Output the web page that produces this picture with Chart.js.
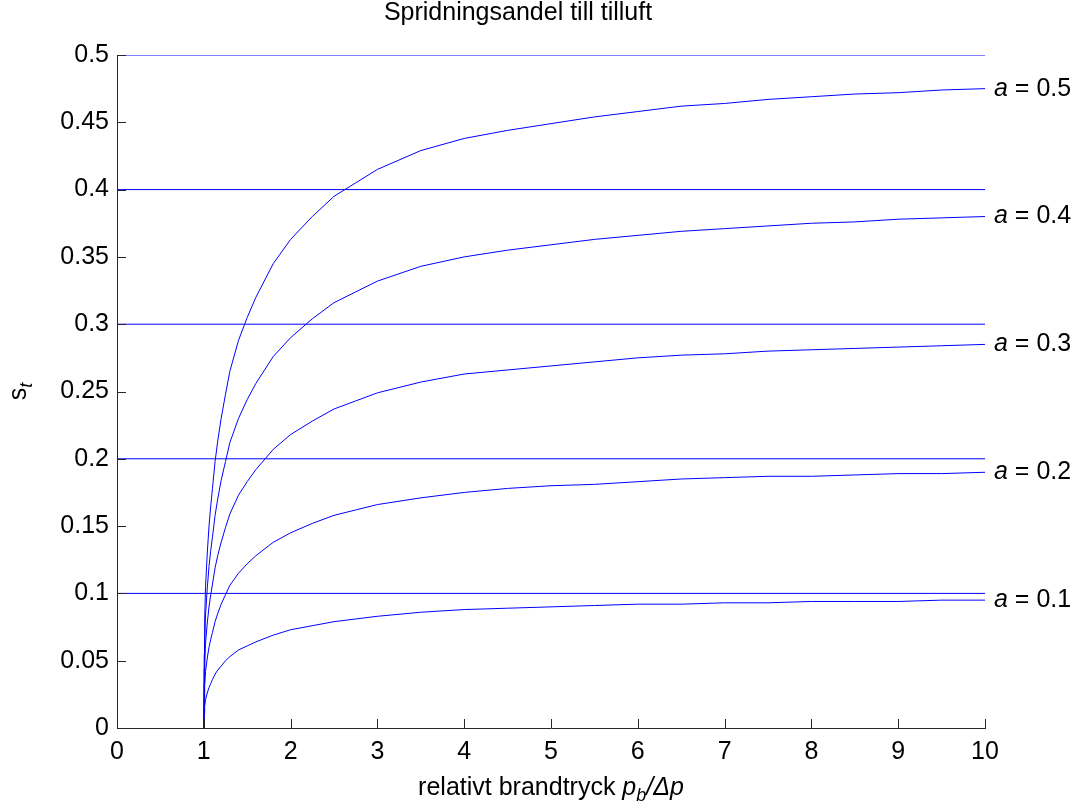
<!DOCTYPE html>
<html>
<head>
<meta charset="utf-8">
<script src="https://cdn.jsdelivr.net/npm/chart.js@4.4.1/dist/chart.umd.min.js"></script>
<style>
  html, body { margin: 0; padding: 0; background: #fff; }
  #wrap { width: 1079px; height: 806px; }
</style>
</head>
<body>
<div id="wrap"><canvas id="myChart" width="1079" height="806"></canvas></div>
<script>
// relativt brandtryck p_b/Δp (x) and s_t for each a
const pressureRatio = [1, 1.005, 1.01, 1.02, 1.04, 1.06, 1.08, 1.1, 1.13, 1.16, 1.2, 1.25, 1.3, 1.4, 1.5, 1.6, 1.8, 2,
    2.25, 2.5, 2.75, 3, 3.5, 4, 4.5, 5, 5.5, 6, 6.5, 7, 7.5, 8, 8.5, 9, 9.5, 10];
const aValues = [0.5, 0.4, 0.3, 0.2, 0.1];
const st_a05 = [0, 0.055, 0.08, 0.105, 0.13, 0.15, 0.165, 0.178, 0.198, 0.213, 0.23, 0.248, 0.265, 0.288, 0.305, 0.32,
    0.345, 0.363, 0.38, 0.395, 0.405, 0.415, 0.429, 0.438, 0.444, 0.449, 0.454, 0.458, 0.462, 0.464, 0.467, 0.469,
    0.471, 0.472, 0.474, 0.475];
const st_a04 = [0, 0.044, 0.064, 0.084, 0.104, 0.12, 0.132, 0.142, 0.158, 0.17, 0.184, 0.198, 0.212, 0.23, 0.244, 0.256,
    0.276, 0.29, 0.304, 0.316, 0.324, 0.332, 0.343, 0.35, 0.355, 0.359, 0.363, 0.366, 0.369, 0.371, 0.373, 0.375,
    0.376, 0.378, 0.379, 0.38];
const st_a03 = [0, 0.033, 0.048, 0.063, 0.078, 0.09, 0.099, 0.107, 0.119, 0.128, 0.138, 0.149, 0.159, 0.173, 0.183, 0.192,
    0.207, 0.218, 0.228, 0.237, 0.243, 0.249, 0.257, 0.263, 0.266, 0.269, 0.272, 0.275, 0.277, 0.278, 0.28, 0.281,
    0.282, 0.283, 0.284, 0.285];
const st_a02 = [0, 0.022, 0.032, 0.042, 0.052, 0.06, 0.066, 0.071, 0.079, 0.085, 0.092, 0.099, 0.106, 0.115, 0.122, 0.128,
    0.138, 0.145, 0.152, 0.158, 0.162, 0.166, 0.171, 0.175, 0.178, 0.18, 0.181, 0.183, 0.185, 0.186, 0.187, 0.187,
    0.188, 0.189, 0.189, 0.19];
const st_a01 = [0, 0.011, 0.016, 0.021, 0.026, 0.03, 0.033, 0.036, 0.04, 0.043, 0.046, 0.05, 0.053, 0.058, 0.061, 0.064,
    0.069, 0.073, 0.076, 0.079, 0.081, 0.083, 0.086, 0.088, 0.089, 0.09, 0.091, 0.092, 0.092, 0.093, 0.093, 0.094,
    0.094, 0.094, 0.095, 0.095];
const curves = [st_a05, st_a04, st_a03, st_a02, st_a01];
const xRange = [0, 10];
const yRange = [0, 0.5];

const lineBlue = '#0000ff';
const axisColor = '#262626';
const fontFamily = '"Liberation Sans", Arial, Helvetica, sans-serif';
const fontSize = 25;

const datasets = [];
curves.forEach((vals, i) => {
    datasets.push({
        label: 'a = ' + aValues[i],
        data: pressureRatio.map((x, j) => ({ x: x, y: vals[j] })),
        borderColor: lineBlue,
        borderWidth: 1,
        pointRadius: 0,
        showLine: true,
        tension: 0
    });
});
// asymptote lines s_t = a
aValues.forEach(a => {
    datasets.push({
        label: 'asymptote ' + a,
        data: [{ x: xRange[0], y: a }, { x: xRange[1], y: a }],
        borderColor: lineBlue,
        borderWidth: 1,
        pointRadius: 0,
        showLine: true
    });
});

function drawRuns(ctx, runs, x, y) {
    let cx = x;
    runs.forEach(r => {
        ctx.font = r.font;
        ctx.fillText(r.text, cx, y + (r.dy || 0));
        cx += ctx.measureText(r.text).width + (r.gap || 0);
    });
}
function runsWidth(ctx, runs) {
    let w = 0;
    runs.forEach(r => { ctx.font = r.font; w += ctx.measureText(r.text).width + (r.gap || 0); });
    return w;
}

const decorPlugin = {
    id: 'decor',
    afterDraw(chart) {
        const { ctx, chartArea, scales } = chart;
        const xs = scales.x, ys = scales.y;
        const reg = fontSize + 'px ' + fontFamily;
        const ital = 'italic ' + fontSize + 'px ' + fontFamily;
        const sub = 'italic 18px ' + fontFamily;
        ctx.save();

        // inward tick marks
        ctx.strokeStyle = axisColor;
        ctx.lineWidth = 1;
        ctx.beginPath();
        xs.ticks.forEach(t => {
            const px = Math.round(xs.getPixelForValue(t.value)) + 0.5;
            ctx.moveTo(px, chartArea.bottom);
            ctx.lineTo(px, chartArea.bottom - 9);
        });
        ys.ticks.forEach(t => {
            const py = Math.round(ys.getPixelForValue(t.value)) + 0.5;
            ctx.moveTo(chartArea.left, py);
            ctx.lineTo(chartArea.left + 9, py);
        });
        ctx.stroke();

        ctx.fillStyle = '#000';
        ctx.textBaseline = 'middle';
        ctx.textAlign = 'left';

        // labels at the curve ends
        curves.forEach((vals, i) => {
            const py = ys.getPixelForValue(vals[vals.length - 1]);
            drawRuns(ctx, [
                { text: 'a', font: ital },
                { text: ' = ' + aValues[i], font: reg }
            ], chartArea.right + 9, py);
        });

        // title
        ctx.textAlign = 'center';
        ctx.font = reg;
        ctx.fillText('Spridningsandel till tilluft', 518, 13);

        // x axis title
        ctx.textAlign = 'left';
        ctx.textBaseline = 'alphabetic';
        const xRuns = [
            { text: 'relativt brandtryck ', font: reg },
            { text: 'p', font: ital },
            { text: 'b', font: sub, dy: 6 },
            { text: '/\u0394p', font: ital }
        ];
        const xw = runsWidth(ctx, xRuns);
        drawRuns(ctx, xRuns, (chartArea.left + chartArea.right) / 2 - xw / 2, 795);

        // y axis title
        const yRuns = [
            { text: 's', font: reg },
            { text: 't', font: sub, dy: 6 }
        ];
        const yw = runsWidth(ctx, yRuns);
        ctx.translate(26, (chartArea.top + chartArea.bottom) / 2);
        ctx.rotate(-Math.PI / 2);
        drawRuns(ctx, yRuns, -yw / 2, 0);

        ctx.restore();
    }
};

const ctx = document.getElementById('myChart').getContext('2d');
const myChart = new Chart(ctx, {
    type: 'scatter',
    data: { datasets: datasets },
    options: {
        responsive: false,
        animation: false,
        layout: { padding: { left: 0, right: 94, top: 55, bottom: 0 } },
        plugins: {
            legend: { display: false },
            tooltip: { enabled: false },
            title: { display: false }
        },
        scales: {
            x: {
                type: 'linear',
                min: xRange[0],
                max: xRange[1],
                afterFit: s => { s.height = 78; },
                grid: { display: false, drawTicks: false },
                border: { display: true, color: axisColor, width: 1 },
                ticks: {
                    stepSize: 1,
                    padding: 9,
                    color: '#000',
                    font: { family: fontFamily, size: fontSize },
                    maxRotation: 0
                }
            },
            y: {
                type: 'linear',
                min: yRange[0],
                max: yRange[1],
                afterFit: s => { s.width = 117; },
                grid: { display: false, drawTicks: false },
                border: { display: true, color: axisColor, width: 1 },
                ticks: {
                    stepSize: 0.05,
                    padding: 8,
                    color: '#000',
                    font: { family: fontFamily, size: fontSize },
                    callback: v => String(Math.round(v * 100) / 100)
                }
            }
        }
    },
    plugins: [decorPlugin]
});
</script>
</body>
</html>
